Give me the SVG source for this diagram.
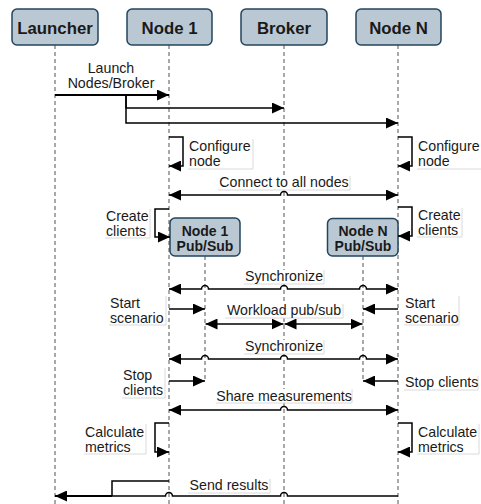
<svg xmlns="http://www.w3.org/2000/svg" width="481" height="504" viewBox="0 0 481 504">
  <style>
    .head { fill: #bac8d3; stroke: #23445d; stroke-width: 1.5; }
    .head-txt { font-family: "Liberation Sans", Arial, sans-serif; font-size: 16.8px; font-weight: bold; fill: #1a1a1a; text-anchor: middle; }
    .sub-txt { font-family: "Liberation Sans", Arial, sans-serif; font-size: 14px; font-weight: bold; fill: #1a1a1a; text-anchor: middle; }
    .life { stroke: #707070; stroke-width: 1.2; stroke-dasharray: 4 3; fill: none; }
    .msg { stroke: #000; stroke-width: 1.5; fill: none; }
    .msg-bold { stroke: #000; stroke-width: 2.2; fill: none; }
    .lbl { font-family: "Liberation Sans", Arial, sans-serif; font-size: 14.2px; fill: #1a1a1a; }
    .mid { text-anchor: middle; }
    .lbl-bg { fill: #fff; stroke: none; }
    .lbl-edge { stroke: #dadada; stroke-width: 1; fill: none; }
  </style>
  <defs>
    <marker id="ah" viewBox="0 0 12 11" refX="12" refY="5.5" markerWidth="12" markerHeight="11" markerUnits="userSpaceOnUse" orient="auto-start-reverse">
      <path d="M0,0 L12,5.5 L0,11 z" fill="#000"/>
    </marker>
  </defs>

  <rect width="481" height="504" fill="#fff"/>

  <!-- participants with their lifelines -->
  <g id="launcher">
    <line class="life" x1="55" y1="45" x2="55" y2="504"/>
    <rect class="head" x="12" y="9" width="86" height="36" rx="5"/>
    <text class="head-txt" x="55" y="34">Launcher</text>
  </g>
  <g id="node1">
    <line class="life" x1="169" y1="45" x2="169" y2="504"/>
    <rect class="head" x="127" y="9" width="85" height="36" rx="5"/>
    <text class="head-txt" x="169.5" y="34">Node 1</text>
  </g>
  <g id="broker">
    <line class="life" x1="284" y1="45" x2="284" y2="504"/>
    <rect class="head" x="241" y="9" width="86" height="36" rx="5"/>
    <text class="head-txt" x="284" y="34">Broker</text>
  </g>
  <g id="nodeN">
    <line class="life" x1="398" y1="45" x2="398" y2="504"/>
    <rect class="head" x="356" y="9" width="85" height="36" rx="5"/>
    <text class="head-txt" x="398.5" y="34">Node N</text>
  </g>
  <g id="node1-pubsub">
    <line class="life" x1="205" y1="256" x2="205" y2="381"/>
    <rect class="head" x="170" y="218" width="70" height="38" rx="5"/>
    <text class="sub-txt" x="205" y="236">Node 1</text>
    <text class="sub-txt" x="205" y="251">Pub/Sub</text>
  </g>
  <g id="nodeN-pubsub">
    <line class="life" x1="363" y1="256" x2="363" y2="381"/>
    <rect class="head" x="327.5" y="218.5" width="70.5" height="37.5" rx="5"/>
    <text class="sub-txt" x="363" y="236">Node N</text>
    <text class="sub-txt" x="363" y="251">Pub/Sub</text>
  </g>

  <!-- messages -->
  <g id="connectors">
    <!-- label backgrounds -->
    <g id="label-backgrounds">
      <rect class="lbl-bg" x="188" y="139" width="65" height="30"/><path class="lbl-edge" d="M253,139 V169 H188"/>
      <rect class="lbl-bg" x="417" y="139" width="65" height="30"/><path class="lbl-edge" d="M482,139 V169 H417"/>
      <rect class="lbl-bg" x="218" y="176" width="132" height="14"/><path class="lbl-edge" d="M350,176 V190 H218"/>
      <rect class="lbl-bg" x="105" y="209" width="45" height="29"/><path class="lbl-edge" d="M150,209 V238 H105"/>
      <rect class="lbl-bg" x="417" y="208" width="45" height="29"/><path class="lbl-edge" d="M462,208 V237 H417"/>
      <rect class="lbl-bg" x="244" y="270" width="80" height="14"/><path class="lbl-edge" d="M324,270 V284 H244"/>
      <rect class="lbl-bg" x="109" y="296" width="57" height="29"/><path class="lbl-edge" d="M166,296 V325 H109"/>
      <rect class="lbl-bg" x="404" y="296" width="55" height="29"/><path class="lbl-edge" d="M459,296 V325 H404"/>
      <rect class="lbl-bg" x="225" y="304" width="118" height="14"/><path class="lbl-edge" d="M343,304 V318 H225"/>
      <rect class="lbl-bg" x="244" y="340" width="80" height="14"/><path class="lbl-edge" d="M324,340 V354 H244"/>
      <rect class="lbl-bg" x="122" y="368" width="43" height="30"/><path class="lbl-edge" d="M165,368 V398 H122"/>
      <rect class="lbl-bg" x="404" y="376" width="74" height="14"/><path class="lbl-edge" d="M478,376 V390 H404"/>
      <rect class="lbl-bg" x="216" y="389" width="136" height="14"/><path class="lbl-edge" d="M352,389 V403 H216"/>
      <rect class="lbl-bg" x="84" y="424" width="62" height="30"/><path class="lbl-edge" d="M146,424 V454 H84"/>
      <rect class="lbl-bg" x="417" y="424" width="62" height="30"/><path class="lbl-edge" d="M479,424 V454 H417"/>
      <rect class="lbl-bg" x="188" y="479" width="82" height="14"/><path class="lbl-edge" d="M270,479 V493 H188"/>
    </g>

    <!-- launch -->
    <path class="msg-bold" d="M55,95 H169" marker-end="url(#ah)"/>
    <path class="msg" d="M126,95 V108 H284" marker-end="url(#ah)"/>
    <path class="msg" d="M126,95 V123 H398" marker-end="url(#ah)"/>

    <!-- configure node -->
    <path class="msg" d="M169,137 H183 V166 H169" marker-end="url(#ah)"/>
    <path class="msg" d="M398,137 H412 V166 H398" marker-end="url(#ah)"/>

    <!-- connect to all nodes -->
    <path class="msg" d="M169,195 H280.5 A3.5,3.5 0 0 1 287.5,195 H398" marker-start="url(#ah)" marker-end="url(#ah)"/>

    <!-- create clients -->
    <path class="msg" d="M169,209 H155 V237 H170" marker-end="url(#ah)"/>
    <path class="msg" d="M398,207 H412 V236 H398" marker-end="url(#ah)"/>

    <!-- synchronize -->
    <path class="msg" d="M169,289 H201.5 A3.5,3.5 0 0 1 208.5,289 H280.5 A3.5,3.5 0 0 1 287.5,289 H359.5 A3.5,3.5 0 0 1 366.5,289 H398" marker-start="url(#ah)" marker-end="url(#ah)"/>

    <!-- start scenario -->
    <path class="msg" d="M169,309 H205" marker-end="url(#ah)"/>
    <path class="msg" d="M398,309 H363" marker-end="url(#ah)"/>

    <!-- workload pub/sub -->
    <path class="msg" d="M205.5,324 H283.5" marker-start="url(#ah)" marker-end="url(#ah)"/>
    <path class="msg" d="M284.5,324 H362.5" marker-start="url(#ah)" marker-end="url(#ah)"/>

    <!-- synchronize -->
    <path class="msg" d="M169,359 H201.5 A3.5,3.5 0 0 1 208.5,359 H280.5 A3.5,3.5 0 0 1 287.5,359 H359.5 A3.5,3.5 0 0 1 366.5,359 H398" marker-start="url(#ah)" marker-end="url(#ah)"/>

    <!-- stop clients -->
    <path class="msg" d="M169,381 H205" marker-end="url(#ah)"/>
    <path class="msg" d="M398,381 H363" marker-end="url(#ah)"/>

    <!-- share measurements -->
    <path class="msg" d="M169,410 H280.5 A3.5,3.5 0 0 1 287.5,410 H398" marker-start="url(#ah)" marker-end="url(#ah)"/>

    <!-- calculate metrics -->
    <path class="msg" d="M169,423 H155 V452 H169" marker-end="url(#ah)"/>
    <path class="msg" d="M398,423 H412 V452 H398" marker-end="url(#ah)"/>

    <!-- send results -->
    <path class="msg" d="M398,496 H287.5 A3.5,3.5 0 0 0 280.5,496 H172.5 A3.5,3.5 0 0 0 165.5,496 H112"/>
    <path class="msg" d="M169,481 H112 V496"/>
    <path class="msg-bold" d="M112,496 H55" marker-end="url(#ah)"/>

    <!-- labels -->
    <text class="lbl mid" x="111" y="73">Launch</text>
    <text class="lbl mid" x="111" y="88">Nodes/Broker</text>
    <text class="lbl" x="189" y="151">Configure</text>
    <text class="lbl" x="189" y="166">node</text>
    <text class="lbl" x="418" y="151">Configure</text>
    <text class="lbl" x="418" y="166">node</text>
    <text class="lbl mid" x="284" y="187">Connect to all nodes</text>
    <text class="lbl" x="106" y="221">Create</text>
    <text class="lbl" x="106" y="236">clients</text>
    <text class="lbl" x="418" y="220">Create</text>
    <text class="lbl" x="418" y="235">clients</text>
    <text class="lbl mid" x="284" y="281">Synchronize</text>
    <text class="lbl" x="110" y="308">Start</text>
    <text class="lbl" x="110" y="323">scenario</text>
    <text class="lbl" x="405" y="308">Start</text>
    <text class="lbl" x="405" y="323">scenario</text>
    <text class="lbl mid" x="284" y="315">Workload pub/sub</text>
    <text class="lbl mid" x="284" y="351">Synchronize</text>
    <text class="lbl" x="123" y="380">Stop</text>
    <text class="lbl" x="123" y="395">clients</text>
    <text class="lbl" x="405" y="387">Stop clients</text>
    <text class="lbl mid" x="284" y="401">Share measurements</text>
    <text class="lbl" x="85" y="437">Calculate</text>
    <text class="lbl" x="85" y="452">metrics</text>
    <text class="lbl" x="418" y="437">Calculate</text>
    <text class="lbl" x="418" y="452">metrics</text>
    <text class="lbl mid" x="229" y="490">Send results</text>
  </g>
</svg>
